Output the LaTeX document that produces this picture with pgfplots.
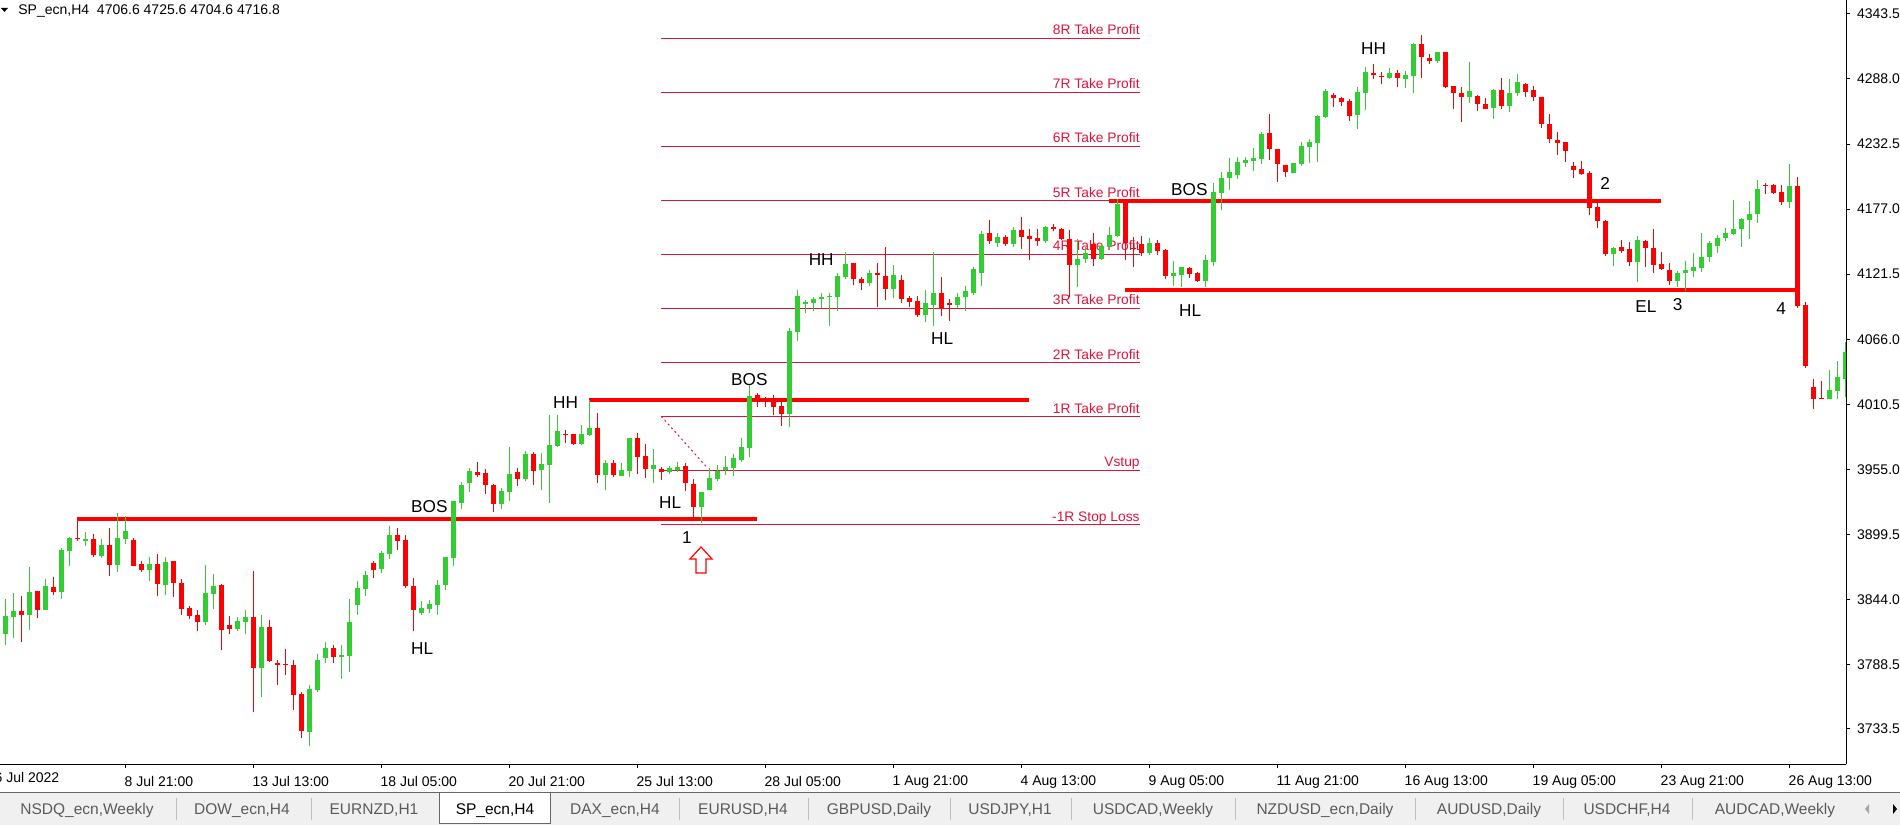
\documentclass[border=0pt]{standalone}
\usepackage{pgfplots}
\pgfplotsset{compat=1.18}
\usepackage{pgfplotstable}
\usepackage{fontspec}
\setmainfont{Liberation Sans}

\definecolor{bull}{RGB}{50,205,50}
\definecolor{bear}{RGB}{255,0,0}
\definecolor{rr}{RGB}{220,20,60}
\definecolor{tabbg}{RGB}{240,240,240}
\definecolor{tabtxt}{RGB}{90,90,90}

\newcommand\lbl{\fontsize{8.6}{10}\selectfont}
\newcommand\tpf{\fontsize{6.9}{8}\selectfont}
\newcommand\tkf{\fontsize{7}{8}\selectfont}
\newcommand\tabf{\fontsize{7.75}{9}\selectfont}

% SP_ecn H4 candles: bar index, open, high, low, close
\pgfplotstableread{
i o h l c
0 3814.5 3844.4 3805.4 3829.9
1 3829.3 3849.5 3811.4 3834.1
2 3834.1 3846.9 3807.7 3830.7
3 3830.7 3871.4 3817.9 3850.3
4 3851.2 3851.2 3828.4 3835.3
5 3835.3 3861.4 3835.3 3855.5
6 3854.6 3862.9 3847.8 3850.3
7 3850.3 3887.9 3844.7 3886.5
8 3885.3 3897.6 3872.8 3896.7
9 3896.1 3912.9 3894.1 3895.3
10 3894.1 3901.5 3889.9 3895.6
11 3895.3 3899.8 3880.2 3881.9
12 3881.1 3895.6 3879.1 3890.2
13 3890.4 3904.9 3864.0 3873.4
14 3873.4 3917.7 3867.4 3896.4
15 3895.8 3915.2 3891.6 3902.4
16 3894.7 3896.4 3872.8 3872.8
17 3874.2 3876.8 3867.4 3869.1
18 3869.1 3879.9 3859.7 3874.2
19 3874.2 3882.8 3846.9 3857.2
20 3856.3 3879.9 3847.8 3875.9
21 3877.1 3877.1 3846.1 3858.0
22 3858.0 3861.4 3830.7 3836.1
23 3836.7 3838.4 3827.3 3830.1
24 3830.7 3835.0 3817.1 3824.7
25 3824.7 3873.4 3822.2 3849.5
26 3848.6 3865.7 3835.8 3855.5
27 3856.3 3857.2 3800.9 3817.9
28 3822.2 3829.9 3814.5 3818.8
29 3818.8 3829.3 3817.1 3825.6
30 3824.7 3835.0 3814.5 3829.0
31 3829.0 3868.3 3748.0 3785.5
32 3785.5 3830.7 3760.8 3820.5
33 3820.5 3826.5 3790.6 3791.2
34 3789.8 3792.3 3771.0 3788.3
35 3789.2 3801.7 3779.5 3788.1
36 3788.1 3792.3 3749.7 3762.5
37 3763.3 3765.0 3725.8 3731.7
38 3730.9 3771.0 3718.9 3767.6
39 3766.7 3797.5 3765.0 3792.3
40 3794.0 3807.7 3789.8 3802.6
41 3802.6 3805.1 3789.8 3794.9
42 3795.2 3805.1 3776.1 3796.6
43 3795.7 3844.4 3782.1 3824.7
44 3839.2 3859.7 3830.7 3853.8
45 3852.9 3868.3 3846.9 3864.8
46 3875.1 3876.8 3862.3 3869.1
47 3870.0 3885.3 3866.5 3883.6
48 3882.8 3906.6 3878.5 3899.0
49 3899.0 3904.9 3886.2 3893.9
50 3894.7 3899.0 3853.8 3855.5
51 3855.5 3862.3 3817.1 3835.0
52 3832.4 3842.7 3830.7 3836.7
53 3835.8 3843.5 3832.4 3839.8
54 3839.2 3860.6 3830.7 3856.3
55 3856.3 3880.2 3852.1 3880.2
56 3879.4 3928.0 3872.5 3928.0
57 3926.3 3944.5 3921.2 3941.6
58 3943.0 3955.8 3935.9 3953.6
59 3952.7 3961.2 3948.2 3950.4
60 3951.9 3955.0 3934.2 3941.9
61 3941.3 3942.5 3918.9 3925.1
62 3925.1 3939.3 3921.1 3936.5
63 3935.9 3974.0 3928.0 3951.0
64 3952.7 3955.8 3941.0 3947.0
65 3946.4 3970.6 3945.0 3968.1
66 3968.1 3970.1 3941.9 3953.8
67 3954.4 3969.2 3937.6 3959.5
68 3958.7 4001.1 3926.5 3975.7
69 3975.2 4001.1 3974.0 3987.7
70 3985.4 3988.8 3977.2 3984.3
71 3985.4 3985.4 3976.0 3976.9
72 3976.9 3992.8 3976.0 3985.4
73 3984.3 4014.1 3983.4 3990.0
74 3990.0 4003.0 3943.3 3950.4
75 3950.4 3963.0 3937.3 3960.4
76 3960.4 3963.0 3948.4 3950.4
77 3949.6 3960.4 3949.0 3954.4
78 3953.8 3981.7 3948.4 3981.7
79 3981.7 3986.3 3950.7 3965.8
80 3966.4 3976.6 3947.6 3955.5
81 3955.5 3972.3 3943.3 3958.4
82 3955.5 3956.7 3945.9 3952.7
83 3952.7 3957.8 3951.3 3956.1
84 3954.4 3961.2 3953.0 3956.7
85 3957.8 3960.1 3936.5 3943.0
86 3942.2 3947.0 3914.6 3922.9
87 3922.9 3935.6 3909.5 3935.6
88 3937.1 3956.1 3937.1 3947.6
89 3946.7 3958.7 3945.0 3953.3
90 3954.4 3966.4 3950.2 3956.7
91 3956.1 3968.1 3949.6 3964.7
92 3962.9 3981.7 3961.2 3974.0
93 3973.2 4026.9 3965.5 4017.8
94 4018.4 4019.8 4008.5 4015.0
95 4014.0 4017.0 4008.5 4012.5
96 4013.6 4018.4 4001.1 4008.5
97 4008.7 4015.6 3992.2 4002.5
98 4002.5 4075.3 3991.4 4072.7
99 4072.4 4108.0 4064.8 4102.9
100 4096.0 4099.5 4088.1 4097.7
101 4096.6 4102.3 4090.4 4100.0
102 4100.0 4105.1 4092.3 4102.3
103 4101.7 4105.1 4077.3 4102.9
104 4102.3 4122.8 4090.4 4119.9
105 4119.4 4140.4 4117.1 4130.2
106 4131.3 4131.3 4112.0 4117.1
107 4117.1 4119.4 4108.0 4114.2
108 4114.2 4125.1 4111.4 4122.2
109 4122.8 4130.7 4093.8 4121.1
110 4119.9 4144.4 4099.5 4109.1
111 4109.1 4129.0 4100.9 4120.5
112 4116.5 4120.5 4096.6 4100.6
113 4100.9 4102.9 4093.8 4098.0
114 4098.3 4102.9 4085.2 4086.4
115 4086.4 4108.0 4080.7 4096.6
116 4095.5 4140.4 4077.3 4105.1
117 4105.1 4119.4 4086.1 4092.6
118 4097.2 4100.6 4081.8 4095.5
119 4095.5 4105.1 4092.3 4102.3
120 4101.7 4111.4 4090.4 4106.8
121 4105.7 4127.3 4103.7 4126.2
122 4122.8 4158.0 4111.4 4155.8
123 4156.3 4167.7 4147.2 4149.5
124 4148.4 4156.3 4145.0 4152.9
125 4152.9 4154.6 4145.5 4147.2
126 4147.2 4161.4 4145.0 4159.2
127 4159.2 4170.0 4142.7 4153.5
128 4154.1 4160.3 4133.6 4151.8
129 4152.3 4159.7 4145.5 4150.1
130 4150.1 4162.6 4147.8 4161.4
131 4161.4 4164.3 4158.0 4159.7
132 4160.3 4160.9 4150.6 4151.8
133 4151.8 4159.2 4102.3 4129.6
134 4129.6 4151.2 4110.3 4134.1
135 4134.1 4145.0 4131.3 4139.8
136 4147.2 4156.3 4128.5 4134.7
137 4134.7 4147.2 4133.6 4145.5
138 4145.0 4161.4 4144.4 4154.6
139 4154.1 4185.3 4153.5 4181.4
140 4183.6 4183.6 4133.6 4148.4
141 4144.1 4153.5 4127.9 4142.7
142 4147.2 4154.0 4137.0 4139.2
143 4139.2 4152.0 4137.8 4147.8
144 4147.8 4150.6 4137.8 4141.5
145 4142.1 4142.7 4117.1 4119.9
146 4120.2 4133.0 4111.4 4122.2
147 4120.7 4127.6 4110.8 4127.6
148 4126.4 4127.9 4117.9 4121.6
149 4122.2 4123.6 4115.1 4115.9
150 4115.9 4137.8 4110.8 4133.6
151 4132.1 4199.0 4128.5 4191.3
152 4191.0 4208.9 4176.2 4203.2
153 4203.8 4220.3 4193.3 4208.6
154 4206.3 4221.7 4202.4 4216.9
155 4216.6 4221.7 4213.2 4218.9
156 4218.3 4228.8 4209.8 4220.6
157 4220.0 4242.7 4215.4 4241.0
158 4241.6 4257.8 4218.9 4228.0
159 4228.0 4228.0 4200.4 4215.4
160 4214.6 4214.6 4204.6 4208.3
161 4208.0 4216.0 4208.0 4216.0
162 4215.4 4234.2 4213.7 4230.8
163 4230.2 4236.8 4216.6 4233.9
164 4233.6 4257.3 4217.4 4256.4
165 4255.8 4279.1 4254.7 4277.7
166 4274.3 4275.7 4264.4 4272.0
167 4272.0 4272.9 4265.2 4268.6
168 4269.5 4270.6 4252.4 4256.4
169 4257.3 4281.4 4245.6 4277.2
170 4276.3 4298.5 4261.5 4294.2
171 4293.4 4300.8 4287.7 4291.4
172 4290.5 4294.2 4283.7 4289.7
173 4288.8 4297.6 4287.7 4292.8
174 4292.8 4295.6 4281.4 4288.5
175 4288.2 4295.1 4280.0 4291.4
176 4290.8 4318.4 4276.3 4317.8
177 4317.8 4325.5 4289.1 4307.0
178 4305.6 4309.3 4300.5 4303.6
179 4303.6 4311.0 4301.9 4311.0
180 4311.0 4311.0 4280.0 4280.9
181 4282.0 4282.0 4262.1 4275.7
182 4275.7 4281.4 4251.6 4272.9
183 4272.9 4302.2 4267.8 4277.7
184 4273.5 4274.3 4261.0 4266.4
185 4266.6 4271.5 4262.1 4262.1
186 4262.9 4279.4 4253.8 4278.6
187 4278.6 4288.5 4262.1 4264.9
188 4264.9 4287.7 4260.1 4275.7
189 4275.7 4292.2 4273.5 4285.4
190 4283.7 4284.8 4272.9 4277.2
191 4278.6 4282.0 4268.9 4272.9
192 4272.3 4272.3 4246.4 4249.3
193 4249.3 4257.8 4233.1 4236.5
194 4235.9 4242.5 4222.8 4233.6
195 4233.9 4233.9 4217.4 4226.3
196 4213.8 4217.5 4203.3 4210.4
197 4211.2 4218.1 4206.1 4206.7
198 4207.5 4209.8 4172.0 4178.2
199 4178.6 4184.8 4161.2 4167.2
200 4166.9 4167.7 4137.0 4138.4
201 4138.4 4145.0 4128.5 4144.1
202 4144.4 4150.7 4139.9 4141.6
203 4142.7 4149.2 4128.5 4132.2
204 4132.2 4154.1 4115.1 4150.7
205 4149.8 4150.7 4127.9 4143.5
206 4143.8 4159.8 4122.8 4129.6
207 4130.2 4140.1 4125.1 4125.6
208 4124.8 4130.7 4112.3 4116.0
209 4116.0 4124.2 4110.9 4122.8
210 4122.2 4132.7 4107.4 4125.1
211 4124.5 4139.3 4118.8 4127.6
212 4127.1 4156.6 4123.6 4135.9
213 4136.5 4150.1 4132.2 4147.8
214 4145.6 4154.9 4139.9 4152.1
215 4152.7 4160.6 4150.1 4156.6
216 4155.8 4184.8 4154.9 4160.1
217 4159.8 4169.1 4145.0 4168.6
218 4167.7 4183.9 4151.5 4172.8
219 4172.8 4201.9 4165.4 4193.9
220 4197.9 4199.0 4189.9 4197.0
221 4197.6 4198.4 4189.9 4191.0
222 4191.6 4197.6 4180.5 4183.1
223 4183.1 4215.5 4178.2 4196.7
224 4196.7 4204.7 4092.9 4094.6
225 4095.2 4097.5 4041.7 4043.2
226 4024.9 4031.8 4006.2 4015.3
227 4016.2 4030.7 4014.7 4015.3
228 4015.3 4039.7 4014.7 4022.7
229 4022.1 4047.1 4014.7 4033.5
230 4032.4 4063.9 4016.4 4055.1
}\candles

\begin{document}
\begin{tikzpicture}
\path[use as bounding box, clip] (0,-30.5pt) rectangle (950pt,382pt);
\begin{axis}[
  at={(0,0)}, anchor=south west,
  scale only axis, width=923pt, height=382pt,
  xmin=-0.6625, xmax=230.0875, ymin=3703.6, ymax=4355.4,
  axis x line*=bottom, axis y line*=right,
  axis line style={black, line width=0.5pt},
  tick align=outside, major tick length=2pt,
  tick style={black, line width=0.5pt},
  xtick={15,31,...,223},
  xticklabels={8 Jul 21:00, 13 Jul 13:00, 18 Jul 05:00, 20 Jul 21:00, 25 Jul 13:00, 28 Jul 05:00, 1 Aug 21:00, 4 Aug 13:00, 9 Aug 05:00, 11 Aug 21:00, 16 Aug 13:00, 19 Aug 05:00, 23 Aug 21:00, 26 Aug 13:00},
  ytick={3733.5,3788.5,3844.0,3899.5,3955.0,4010.5,4066.0,4121.5,4177.0,4232.5,4288.0,4343.5},
  yticklabels={3733.5,3788.5,3844.0,3899.5,3955.0,4010.5,4066.0,4121.5,4177.0,4232.5,4288.0,4343.5},
  ticklabel style={font=\tkf},
  xticklabel style={anchor=north west, inner sep=0pt, xshift=-0.5pt, yshift=-3.85pt},
  yticklabel style={anchor=west, inner sep=0pt, xshift=3.35pt},
  clip mode=individual,
]

% risk/reward levels of the trade tool
\pgfplotsinvokeforeach{3908.1,3954.2,4000.2,4046.3,4092.4,4138.5,4184.5,4230.6,4276.7,4322.8}{
  \addplot[rr, line width=0.5pt, forget plot] coordinates {(82.0,#1) (141.84,#1)};
}
\addplot[rr, line width=0.5pt, dash pattern=on 1pt off 1.5pt, forget plot] coordinates {(82.0,4000.2) (87.7,3956.7)};

\begin{scope}[every node/.style={anchor=base east, inner sep=0pt, text=rr, font=\tpf}]
\node at (axis cs:141.84,4325.6) {8R Take Profit};
\node at (axis cs:141.84,4279.5) {7R Take Profit};
\node at (axis cs:141.84,4233.4) {6R Take Profit};
\node at (axis cs:141.84,4187.3) {5R Take Profit};
\node at (axis cs:141.84,4141.3) {4R Take Profit};
\node at (axis cs:141.84,4095.2) {3R Take Profit};
\node at (axis cs:141.84,4049.1) {2R Take Profit};
\node at (axis cs:141.84,4003.0) {1R Take Profit};
\node at (axis cs:141.84,3957.0) {Vstup};
\node at (axis cs:141.84,3910.9) {-1R Stop Loss};
\end{scope}

% structure levels
\addplot[bear, line width=2pt, forget plot] coordinates {(9.0,3912.9) (93.9,3912.9)};
\addplot[bear, line width=2pt, forget plot] coordinates {(73.0,4014.1) (127.9,4014.1)};
\addplot[bear, line width=2pt, forget plot] coordinates {(138.0,4183.7) (207.0,4183.7)};
\addplot[bear, line width=2pt, forget plot] coordinates {(140.0,4108.0) (223.7,4108.0)};

% wicks: a vertical segment from low to high
\addplot[bull, line width=0.5pt, mark=none, forget plot,
  quiver={u=0, v=\thisrow{h}-\thisrow{l}}]
  table[x=i, y expr={\thisrow{c}>=\thisrow{o} ? \thisrow{l} : nan}] {\candles};
\addplot[bear, line width=0.5pt, mark=none, forget plot,
  quiver={u=0, v=\thisrow{h}-\thisrow{l}}]
  table[x=i, y expr={\thisrow{c}<\thisrow{o} ? \thisrow{l} : nan}] {\candles};
% bodies: a wide segment from open to close
\addplot[bull, line width=2.4pt, mark=none, forget plot,
  quiver={u=0, v={max(\thisrow{c}-\thisrow{o},0.85)}}]
  table[x=i, y expr={\thisrow{c}>=\thisrow{o} ? \thisrow{o} : nan}] {\candles};
\addplot[bear, line width=2.4pt, mark=none, forget plot,
  quiver={u=0, v={max(\thisrow{o}-\thisrow{c},0.85)}}]
  table[x=i, y expr={\thisrow{c}<\thisrow{o} ? \thisrow{c} : nan}] {\candles};

\begin{scope}[every node/.style={anchor=base west, inner sep=0pt, font=\lbl}]
\node at (axis cs:50.68,3918.0) {BOS};
\node at (axis cs:50.68,3797.4) {HL};
\node at (axis cs:68.43,4007.1) {HH};
\node at (axis cs:81.68,3921.7) {HL};
\node at (axis cs:84.55,3891.9) {1};
\node at (axis cs:90.68,4026.9) {BOS};
\node at (axis cs:100.38,4128.5) {HH};
\node at (axis cs:115.68,4061.1) {HL};
\node at (axis cs:145.68,4188.2) {BOS};
\node at (axis cs:146.68,4085.8) {HL};
\node at (axis cs:169.43,4308.5) {HH};
\node at (axis cs:199.34,4193.3) {2};
\node at (axis cs:203.71,4089.2) {EL};
\node at (axis cs:208.38,4090.3) {3};
\node at (axis cs:221.34,4086.7) {4};
\end{scope}
% first date label, its tick lies just left of the window
\node[anchor=north west, inner sep=0pt, xshift=-1.5pt, yshift=-3.85pt, font=\tkf] at (axis cs:-1,3703.6) {6 Jul 2022};
\end{axis}

% terminal chrome, in screen pixels
\begin{scope}[shift={(0,382pt)}, x=0.5pt, y=-0.5pt]
  % entry arrow
  \filldraw[fill=white, draw=bear, line width=0.6pt]
    (701,547) -- (712,559) -- (706,559) -- (706,573) -- (696,573) -- (696,559) -- (690,559) -- cycle;
  % header
  \fill[black] (1,8) -- (8,8) -- (4.5,12) -- cycle;
  \node[anchor=base west, inner sep=0pt, font=\tkf] at (18,15) {SP\_ecn,H4\ \ 4706.6 4725.6 4704.6 4716.8};
  % tab bar
  \fill[tabbg] (0,793) rectangle (1900,825);
  \draw[black!60, line width=0.5pt] (0,792.5) -- (1900,792.5);
  \fill[white] (439,792.5) rectangle (550,823);
  \draw[black!60, line width=0.5pt] (439,792.5) -- (439,823) -- (550,823) -- (550,792.5);
  \foreach \sx in {176,311,679,808,950,1071,1235,1415,1563,1692}
    \draw[black!25, line width=0.5pt] (\sx,798) -- (\sx,820);
  \begin{scope}[every node/.style={anchor=base, inner sep=0pt, font=\tabf, text=tabtxt}]
    \node at (87,814) {NSDQ\_ecn,Weekly};
    \node at (242,814) {DOW\_ecn,H4};
    \node at (374,814) {EURNZD,H1};
    \node[text=black] at (495,814) {SP\_ecn,H4};
    \node at (615,814) {DAX\_ecn,H4};
    \node at (743,814) {EURUSD,H4};
    \node at (879,814) {GBPUSD,Daily};
    \node at (1010,814) {USDJPY,H1};
    \node at (1153,814) {USDCAD,Weekly};
    \node at (1325,814) {NZDUSD\_ecn,Daily};
    \node at (1489,814) {AUDUSD,Daily};
    \node at (1627,814) {USDCHF,H4};
    \node at (1775,814) {AUDCAD,Weekly};
  \end{scope}
  \fill[black!35] (1869,804) -- (1865,809) -- (1869,814) -- cycle;
  \fill[black] (1893,804) -- (1897,809) -- (1893,814) -- cycle;
\end{scope}
\end{tikzpicture}
\end{document}
